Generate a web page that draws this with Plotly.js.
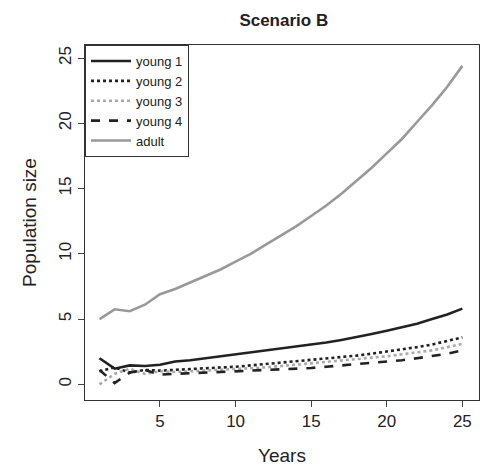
<!DOCTYPE html><html><head><script src="https://cdn.plot.ly/plotly-3.0.1.min.js"></script></head><body style="margin:0"><div id="g" style="width:481px;height:470px"></div><script>
const years=[1,2,3,4,5,6,7,8,9,10,11,12,13,14,15,16,17,18,19,20,21,22,23,24,25];
const young1=[2.0,1.2,1.45,1.4,1.5,1.75,1.85,2.0,2.1,2.25,2.4,2.55,2.7,2.85,3.0,3.2,3.4,3.6,3.85,4.1,4.35,4.65,5.0,5.35,5.8];
const young2=[1.0,1.3,0.9,1.1,1.05,1.1,1.15,1.2,1.3,1.35,1.45,1.55,1.65,1.75,1.85,1.95,2.05,2.2,2.35,2.5,2.65,2.85,3.05,3.3,3.6];
const young3=[0.0,0.8,1.2,0.8,1.0,0.95,1.0,1.05,1.1,1.15,1.25,1.3,1.4,1.5,1.6,1.7,1.8,1.9,2.0,2.15,2.3,2.45,2.6,2.85,3.1];
const young4=[1.1,0.1,0.9,1.1,0.75,0.8,0.8,0.85,0.9,0.95,1.0,1.05,1.1,1.2,1.25,1.35,1.45,1.5,1.6,1.75,1.85,2.0,2.15,2.35,2.6];
const adult=[5.0,5.75,5.6,6.1,6.9,7.3,7.8,8.3,8.8,9.4,10.0,10.7,11.4,12.1,12.9,13.7,14.6,15.6,16.6,17.7,18.8,20.1,21.4,22.8,24.4];
const names=["young 1","young 2","young 3","young 4","adult"];
const ys=[young1,young2,young3,young4,adult];
const st=[["#222","solid"],["#222","dot"],["#aaa","dot"],["#222","dash"],["#999","solid"]];
const data=ys.map((y,i)=>({x:years,y:y,name:names[i],mode:"lines",line:{color:st[i][0],dash:st[i][1],width:2.6}}));
Plotly.newPlot("g",data,{width:481,height:470,margin:{l:85,r:2,t:45,b:70},paper_bgcolor:"#fff",plot_bgcolor:"#fff",
font:{family:"Liberation Sans, Arial",color:"#222"},
title:{text:"<b>Scenario B</b>",x:0.59,y:0.97,font:{size:17}},
xaxis:{range:[0.04,26.1],tickvals:[5,10,15,20,25],showgrid:false,zeroline:false,showline:true,mirror:true,linecolor:"#333",ticks:"outside",ticklen:6,tickfont:{size:17},title:{text:"Years",font:{size:19},standoff:18}},
yaxis:{range:[-1.2,26],tickvals:[0,5,10,15,20,25],showgrid:false,zeroline:false,showline:true,mirror:true,linecolor:"#333",ticks:"outside",ticklen:6,tickfont:{size:17},tickangle:-90,title:{text:"Population size",font:{size:19},standoff:14}},
legend:{x:0,y:1,xanchor:"left",yanchor:"top",bordercolor:"#333",borderwidth:1,font:{size:13},tracegroupgap:0,itemwidth:40}
},{displayModeBar:false});
</script></body></html>
